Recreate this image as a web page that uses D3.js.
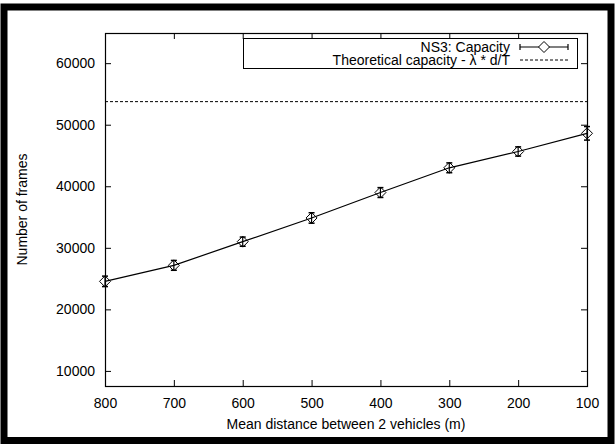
<!DOCTYPE html>
<html>
<head>
<meta charset="utf-8">
<script src="https://cdn.jsdelivr.net/npm/d3@7"></script>
<style>
  body { margin: 0; background: #fff; }
  svg text { font-family: "Liberation Sans", Arial, sans-serif; fill: #000; }
</style>
</head>
<body>
<svg id="chart" width="615" height="444"></svg>
<script>
// distances (m), x axis runs from 800 down to 100
const distances = [800, 700, 600, 500, 400, 300, 200, 100];
// NS3 capacity, mean number of frames
const capacity = [24550, 27150, 31000, 34850, 38980, 43000, 45650, 48600];
// error bar half widths
const capacityErr = [850, 800, 750, 850, 800, 800, 750, 1100];
// theoretical capacity lambda * d/T
const theoretical = 53750;

const xTicks = [800, 700, 600, 500, 400, 300, 200, 100];
const yTicks = [10000, 20000, 30000, 40000, 50000, 60000];

const svg = d3.select("#chart");
const fontSize = "14px";

// outer black frame
svg.append("rect")
    .attr("x", 4).attr("y", 7)
    .attr("width", 607).attr("height", 433.5)
    .attr("fill", "none")
    .attr("stroke", "#000")
    .attr("stroke-width", 7);

const mLeft = 105, mRight = 587, mTop = 33, mBottom = 386;

const x = d3.scaleLinear().domain([800, 100]).range([mLeft, mRight]);
const y = d3.scaleLinear().domain([7550, 64900]).range([mBottom, mTop]);

// axes with inward ticks, mirrored on the other sides
const tickLen = 6;
svg.append("g")
    .attr("transform", `translate(0,${mBottom})`)
    .call(d3.axisBottom(x).tickValues(xTicks).tickSizeInner(-tickLen).tickSizeOuter(0).tickPadding(12))
    .call(g => g.select(".domain").remove())
    .call(g => g.selectAll("text").attr("font-size", fontSize).attr("font-family", "Liberation Sans, Arial, sans-serif"));

svg.append("g")
    .attr("transform", `translate(0,${mTop})`)
    .call(d3.axisTop(x).tickValues(xTicks).tickSizeInner(-tickLen).tickSizeOuter(0).tickFormat(""))
    .call(g => g.select(".domain").remove());

svg.append("g")
    .attr("transform", `translate(${mLeft},0)`)
    .call(d3.axisLeft(y).tickValues(yTicks).tickSizeInner(-tickLen).tickSizeOuter(0).tickPadding(10).tickFormat(d3.format("d")))
    .call(g => g.select(".domain").remove())
    .call(g => g.selectAll("text").attr("font-size", fontSize).attr("font-family", "Liberation Sans, Arial, sans-serif"));

svg.append("g")
    .attr("transform", `translate(${mRight},0)`)
    .call(d3.axisRight(y).tickValues(yTicks).tickSizeInner(-tickLen).tickSizeOuter(0).tickFormat(""))
    .call(g => g.select(".domain").remove());

svg.selectAll(".tick line").attr("stroke", "#000");

// plot border
svg.append("rect")
    .attr("x", mLeft + 0.5).attr("y", mTop + 0.5)
    .attr("width", mRight - mLeft).attr("height", mBottom - mTop)
    .attr("fill", "none")
    .attr("stroke", "#000")
    .attr("stroke-width", 1.2);

// axis labels
svg.append("text")
    .attr("x", (mLeft + mRight) / 2)
    .attr("y", 429)
    .attr("text-anchor", "middle")
    .attr("font-size", fontSize)
    .text("Mean distance between 2 vehicles (m)");

svg.append("text")
    .attr("transform", "rotate(-90)")
    .attr("x", -(mTop + mBottom) / 2)
    .attr("y", 27)
    .attr("text-anchor", "middle")
    .attr("font-size", fontSize)
    .text("Number of frames");

// theoretical line
svg.append("line")
    .attr("x1", mLeft).attr("x2", mRight)
    .attr("y1", y(theoretical)).attr("y2", y(theoretical))
    .attr("stroke", "#000")
    .attr("stroke-width", 1)
    .attr("stroke-dasharray", "3,2");

const points = distances.map((d, i) => ({ d, v: capacity[i], e: capacityErr[i] }));

const line = d3.line().x(p => x(p.d)).y(p => y(p.v));
svg.append("path")
    .datum(points)
    .attr("fill", "none")
    .attr("stroke", "#000")
    .attr("stroke-width", 1.2)
    .attr("d", line);

const diamond = (cx, cy, r) => `M${cx},${cy - r}L${cx + r},${cy}L${cx},${cy + r}L${cx - r},${cy}Z`;

const pts = svg.append("g").selectAll("g").data(points).enter().append("g");
pts.append("line")
    .attr("x1", p => x(p.d)).attr("x2", p => x(p.d))
    .attr("y1", p => y(p.v - p.e)).attr("y2", p => y(p.v + p.e))
    .attr("stroke", "#000").attr("stroke-width", 1.2);
[-1, 1].forEach(s => {
    pts.append("line")
        .attr("x1", p => x(p.d) - 3).attr("x2", p => x(p.d) + 3)
        .attr("y1", p => y(p.v + s * p.e)).attr("y2", p => y(p.v + s * p.e))
        .attr("stroke", "#000").attr("stroke-width", 1.5);
});
pts.append("path")
    .attr("d", p => diamond(x(p.d), y(p.v), 5.5))
    .attr("fill", "none")
    .attr("stroke", "#000")
    .attr("stroke-width", 1);

// legend
const lg = svg.append("g");
lg.append("rect")
    .attr("x", 243.5).attr("y", 38.5)
    .attr("width", 334).attr("height", 30)
    .attr("fill", "#fff")
    .attr("stroke", "#000")
    .attr("stroke-width", 1);

lg.append("text")
    .attr("x", 510).attr("y", 52)
    .attr("text-anchor", "end")
    .attr("font-size", fontSize)
    .text("NS3: Capacity");
lg.append("text")
    .attr("x", 510).attr("y", 65)
    .attr("text-anchor", "end")
    .attr("font-size", fontSize)
    .text("Theoretical capacity - λ * d/T");

const sx1 = 520, sx2 = 568, sy1 = 47, sy2 = 60;
lg.append("line").attr("x1", sx1).attr("x2", sx2).attr("y1", sy1).attr("y2", sy1)
    .attr("stroke", "#000").attr("stroke-width", 1.2);
[sx1, sx2].forEach(sx => lg.append("line")
    .attr("x1", sx).attr("x2", sx).attr("y1", sy1 - 3).attr("y2", sy1 + 3)
    .attr("stroke", "#000").attr("stroke-width", 1.2));
lg.append("path")
    .attr("d", diamond((sx1 + sx2) / 2, sy1, 5.5))
    .attr("fill", "#fff").attr("stroke", "#000").attr("stroke-width", 1);
lg.append("line").attr("x1", sx1).attr("x2", sx2).attr("y1", sy2).attr("y2", sy2)
    .attr("stroke", "#000").attr("stroke-width", 1)
    .attr("stroke-dasharray", "3,2");
</script>
</body>
</html>
